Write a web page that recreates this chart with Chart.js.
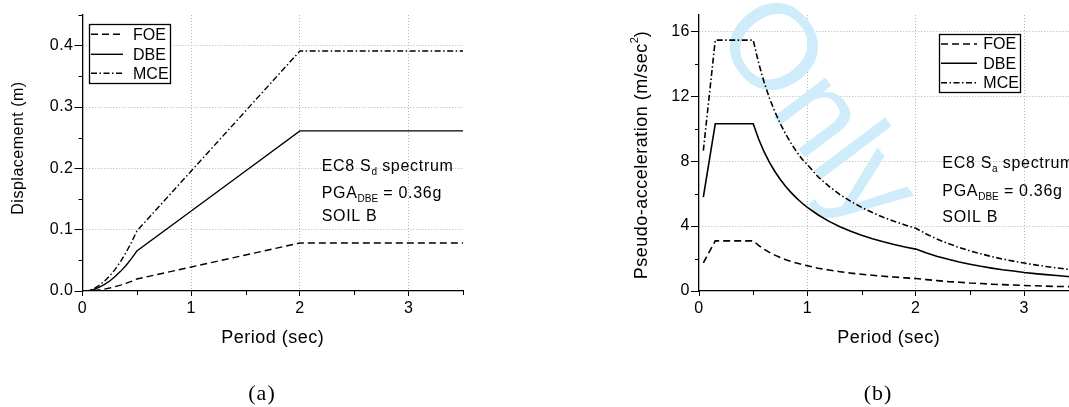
<!DOCTYPE html>
<html><head><meta charset="utf-8">
<script src="https://cdn.jsdelivr.net/npm/chart.js@4.4.1/dist/chart.umd.min.js"></script>
<style>
html,body{margin:0;padding:0;background:#fff;overflow:hidden;width:1069px;height:407px;}
#wrap{position:relative;width:1069px;height:407px;overflow:hidden;background:#fff;}
canvas{position:absolute;top:0;}
#cL{left:0;} #cR{left:590px;}
.cap{position:absolute;font-family:"Liberation Serif","Times New Roman",serif;font-size:22px;color:#000;transform:translate(-50%,-50%);letter-spacing:1px;white-space:nowrap;}
</style></head>
<body><div id="wrap">
<canvas id="cL" width="520" height="407"></canvas>
<canvas id="cR" width="510" height="407"></canvas>
<div class="cap" style="left:262px;top:393px">(a)</div>
<div class="cap" style="left:878px;top:393px">(b)</div>
</div>
<script>
// ---------- data ----------
const seriesNames = ['FOE', 'DBE', 'MCE'];
const periodTicks = [0, 1, 2, 3];
const periodMinorTicks = [0.5, 1.5, 2.5, 3.5];
const dispTicks = [0, 0.1, 0.2, 0.3, 0.4];
const dispMinorTicks = [0.05, 0.15, 0.25, 0.35, 0.45];
const accTicks = [0, 4, 8, 12, 16];
const accMinorTicks = [2, 6, 10, 14];

// (a) displacement spectrum
const dispPeriods = [0, 0.04, 0.1, 0.15, 0.2, 0.25, 0.3, 0.35, 0.4, 0.45, 0.5, 1.0, 1.5, 2.0, 3.5];
const dispFOE = [0, 0.0001, 0.0006, 0.0018, 0.0031, 0.0049, 0.0071, 0.0096, 0.0125, 0.0158, 0.0196, 0.0392, 0.0587, 0.0783, 0.0783];
const dispDBE = [0, 0.0002, 0.0021, 0.0059, 0.0104, 0.0163, 0.0235, 0.0320, 0.0417, 0.0528, 0.0652, 0.1305, 0.1957, 0.2610, 0.2610];
const dispMCE = [0, 0.0003, 0.0031, 0.0088, 0.0157, 0.0245, 0.0352, 0.0480, 0.0626, 0.0792, 0.0978, 0.1957, 0.2935, 0.3914, 0.3914];

// (b) pseudo-acceleration spectrum
const accPeriods = [0.04, 0.15, 0.5, 0.55, 0.6, 0.65, 0.7, 0.75, 0.8, 0.85, 0.9, 0.95,
  1.0, 1.1, 1.2, 1.3, 1.4, 1.5, 1.6, 1.7, 1.8, 1.9, 2.0,
  2.1, 2.2, 2.3, 2.4, 2.5, 2.6, 2.7, 2.8, 2.9, 3.0,
  3.1, 3.2, 3.3, 3.4, 3.5];
const accFOE = [1.73, 3.09, 3.09, 2.81, 2.57, 2.38, 2.21, 2.06, 1.93, 1.82, 1.72, 1.63,
  1.55, 1.40, 1.29, 1.19, 1.10, 1.03, 0.97, 0.91, 0.86, 0.81, 0.77,
  0.70, 0.64, 0.58, 0.54, 0.49, 0.46, 0.42, 0.39, 0.37, 0.34,
  0.32, 0.30, 0.28, 0.27, 0.25];
const accDBE = [5.78, 10.30, 10.30, 9.36, 8.58, 7.92, 7.36, 6.87, 6.44, 6.06, 5.72, 5.42,
  5.15, 4.68, 4.29, 3.96, 3.68, 3.43, 3.22, 3.03, 2.86, 2.71, 2.58,
  2.34, 2.13, 1.95, 1.79, 1.65, 1.52, 1.41, 1.31, 1.23, 1.14,
  1.07, 1.01, 0.95, 0.89, 0.84];
const accMCE = [8.65, 15.45, 15.45, 14.05, 12.87, 11.88, 11.04, 10.30, 9.66, 9.09, 8.58, 8.13,
  7.78, 7.02, 6.44, 5.94, 5.52, 5.15, 4.83, 4.54, 4.29, 4.07, 3.86,
  3.50, 3.19, 2.92, 2.68, 2.47, 2.29, 2.12, 1.97, 1.84, 1.72,
  1.61, 1.51, 1.42, 1.34, 1.26];

// ---------- styling ----------
const FONT = '"Liberation Sans", Arial, Helvetica, sans-serif';
const dashes = [[7, 4], [], [6, 2.5, 1.5, 2.5]];

function pts(xs, ys) { return xs.map((x, i) => ({ x: x, y: ys[i] })); }

function drawRich(ctx, parts, x, y, size, spacing) {
  let cx = x;
  parts.forEach(p => {
    const k = p[1] || 0;
    const fs = k ? Math.round(size * 0.62) : size;
    ctx.font = fs + 'px ' + FONT;
    ctx.letterSpacing = (k ? 0 : spacing) + 'px';
    const dy = k === 1 ? 4 : (k === 2 ? -7 : 0);
    ctx.fillText(p[0], cx, y + dy);
    cx += ctx.measureText(p[0]).width;
  });
  return cx - x;
}
function richWidth(ctx, parts, size, spacing) {
  let w = 0;
  parts.forEach(p => {
    const k = p[1] || 0;
    const fs = k ? Math.round(size * 0.62) : size;
    ctx.font = fs + 'px ' + FONT;
    ctx.letterSpacing = (k ? 0 : spacing) + 'px';
    w += ctx.measureText(p[0]).width;
  });
  return w;
}

const extrasPlugin = {
  id: 'extras',
  beforeDraw(chart) {
    chart.ctx.letterSpacing = '0.5px';
  },
  beforeDatasetsDraw(chart, args, o) {
    const ctx = chart.ctx, a = chart.chartArea, sx = chart.scales.x, sy = chart.scales.y;
    ctx.save();
    ctx.letterSpacing = '0px';
    if (o.watermark) {
      const w = o.watermark;
      ctx.translate(w.x, w.y);
      ctx.rotate(w.angle * Math.PI / 180);
      ctx.font = w.size + 'px ' + FONT;
      ctx.fillStyle = w.color;
      ctx.textAlign = 'center';
      ctx.textBaseline = 'middle';
      ctx.fillText(w.text, 0, 0);
      ctx.setTransform(1, 0, 0, 1, 0, 0);
    }
    // minor ticks
    ctx.strokeStyle = '#000';
    ctx.lineWidth = 1;
    ctx.beginPath();
    o.minorX.forEach(v => {
      const p = Math.round(sx.getPixelForValue(v)) + 0.5;
      ctx.moveTo(p, a.bottom); ctx.lineTo(p, a.bottom + 4);
    });
    o.minorY.forEach(v => {
      const p = Math.round(sy.getPixelForValue(v)) + 0.5;
      ctx.moveTo(a.left - 4, p); ctx.lineTo(a.left, p);
    });
    ctx.stroke();
    ctx.restore();
  },
  afterDraw(chart, args, o) {
    const ctx = chart.ctx, a = chart.chartArea;
    ctx.save();
    // legend
    const L = o.legend;
    ctx.fillStyle = '#fff';
    ctx.fillRect(L.x, L.y, L.w, L.h);
    ctx.strokeStyle = '#000';
    ctx.lineWidth = 1.3;
    ctx.setLineDash([]);
    ctx.strokeRect(L.x + 0.5, L.y + 0.5, L.w, L.h);
    ctx.fillStyle = '#000';
    ctx.font = '16px ' + FONT;
    ctx.letterSpacing = '0px';
    ctx.textBaseline = 'middle';
    ctx.textAlign = 'left';
    chart.data.datasets.forEach((ds, i) => {
      const y = L.rows[i];
      ctx.setLineDash(ds.borderDash || []);
      ctx.lineWidth = ds.borderWidth;
      ctx.beginPath();
      ctx.moveTo(L.x0, y); ctx.lineTo(L.x1, y);
      ctx.stroke();
      ctx.setLineDash([]);
      ctx.fillText(ds.label, L.tx, y + 1);
    });
    // notes
    ctx.textBaseline = 'alphabetic';
    const N = o.notes;
    N.lines.forEach((parts, i) => drawRich(ctx, parts, N.x, N.base[i], 16, 0.7));
    // x title
    ctx.textAlign = 'center';
    ctx.textBaseline = 'middle';
    ctx.font = '18px ' + FONT;
    ctx.letterSpacing = '0.5px';
    ctx.fillText(o.xTitle, (a.left + a.right) / 2, o.xTitleY);
    // y title (rotated)
    const T = o.yTitle;
    ctx.translate(T.x, T.y);
    ctx.rotate(-Math.PI / 2);
    ctx.textAlign = 'left';
    const tw = richWidth(ctx, T.parts, T.size, T.spacing);
    drawRich(ctx, T.parts, -tw / 2, 0, T.size, T.spacing);
    ctx.restore();
  }
};

function gridColor(c) { return (c.tick && c.tick.value === 0) ? 'rgba(0,0,0,0)' : '#b2b2b2'; }

function makeChart(id, cfg) {
  const datasets = [cfg.foe, cfg.dbe, cfg.mce].map((ys, i) => ({
    label: seriesNames[i],
    data: pts(cfg.periods, ys),
    borderColor: '#000',
    borderWidth: cfg.lw,
    borderDash: dashes[i],
    pointRadius: 0,
    fill: false,
    tension: 0
  }));
  return new Chart(document.getElementById(id), {
    type: 'line',
    data: { datasets: datasets },
    plugins: [extrasPlugin],
    options: {
      responsive: false,
      animation: false,
      events: [],
      devicePixelRatio: 1,
      layout: { padding: { left: 0, right: cfg.padRight, top: 15, bottom: 76 } },
      plugins: {
        legend: { display: false },
        tooltip: { enabled: false },
        extras: cfg.extras
      },
      scales: {
        x: {
          type: 'linear', min: 0, max: 3.5,
          afterBuildTicks: s => { s.ticks = periodTicks.map(v => ({ value: v })); },
          afterFit: s => { s.height = 40; },
          ticks: { autoSkip: false, maxRotation: 0, color: '#000', padding: 3,
            font: { family: FONT, size: 16 }, callback: v => String(v) },
          grid: { color: gridColor, lineWidth: 1, drawTicks: true, tickLength: 5,
            tickColor: '#000', tickBorderDash: [], tickWidth: 1 },
          border: { display: true, color: '#000', width: 1.3, dash: [1, 2] },
          title: { display: false }
        },
        y: {
          type: 'linear', min: 0, max: cfg.yMax,
          afterBuildTicks: s => { s.ticks = cfg.yTicks.map(v => ({ value: v })); },
          afterFit: s => { s.width = cfg.yWidth; },
          ticks: { autoSkip: false, color: '#000', padding: 1,
            font: { family: FONT, size: 16 }, callback: cfg.yFmt },
          grid: { color: gridColor, lineWidth: 1, drawTicks: true, tickLength: 8,
            tickColor: '#000', tickBorderDash: [], tickWidth: 1 },
          border: { display: true, color: '#000', width: 1.3, dash: [1, 2] },
          title: { display: false }
        }
      }
    }
  });
}

makeChart('cL', {
  periods: dispPeriods, foe: dispFOE, dbe: dispDBE, mce: dispMCE,
  lw: 1.4, yMax: 0.45, yTicks: dispTicks, yWidth: 82.5, padRight: 57,
  yFmt: v => v.toFixed(1),
  extras: {
    minorX: periodMinorTicks, minorY: dispMinorTicks,
    legend: { x: 89, y: 24, w: 81, h: 59, rows: [34.3, 54.3, 73.3], x0: 91, x1: 123, tx: 133 },
    notes: { x: 321.7, base: [170.5, 197.5, 221],
      lines: [[['EC8 S'], ['d', 1], [' spectrum']], [['PGA'], ['DBE', 1], [' = 0.36g']], [['SOIL B']]] },
    xTitle: 'Period (sec)', xTitleY: 338,
    yTitle: { x: 18.5, y: 148, size: 16, spacing: 0.5, parts: [['Displacement (m)']] }
  }
});

makeChart('cR', {
  periods: accPeriods, foe: accFOE, dbe: accDBE, mce: accMCE,
  lw: 1.6, yMax: 17, yTicks: accTicks, yWidth: 109, padRight: 21.6,
  yFmt: v => String(v),
  extras: {
    minorX: periodMinorTicks, minorY: accMinorTicks,
    watermark: { text: 'Only', x: 224, y: 114, angle: 53, size: 122, color: 'rgb(207,236,250)' },
    legend: { x: 349, y: 34, w: 81, h: 58, rows: [44, 63.3, 82.7], x0: 351, x1: 387, tx: 393.3 },
    notes: { x: 352.3, base: [168.3, 195.7, 222],
      lines: [[['EC8 S'], ['a', 1], [' spectrum']], [['PGA'], ['DBE', 1], [' = 0.36g']], [['SOIL B']]] },
    xTitle: 'Period (sec)', xTitleY: 338,
    yTitle: { x: 52, y: 155, size: 18, spacing: 0.5, parts: [['Pseudo-acceleration (m/sec'], ['2', 2], [')']] }
  }
});
</script>
</body></html>
